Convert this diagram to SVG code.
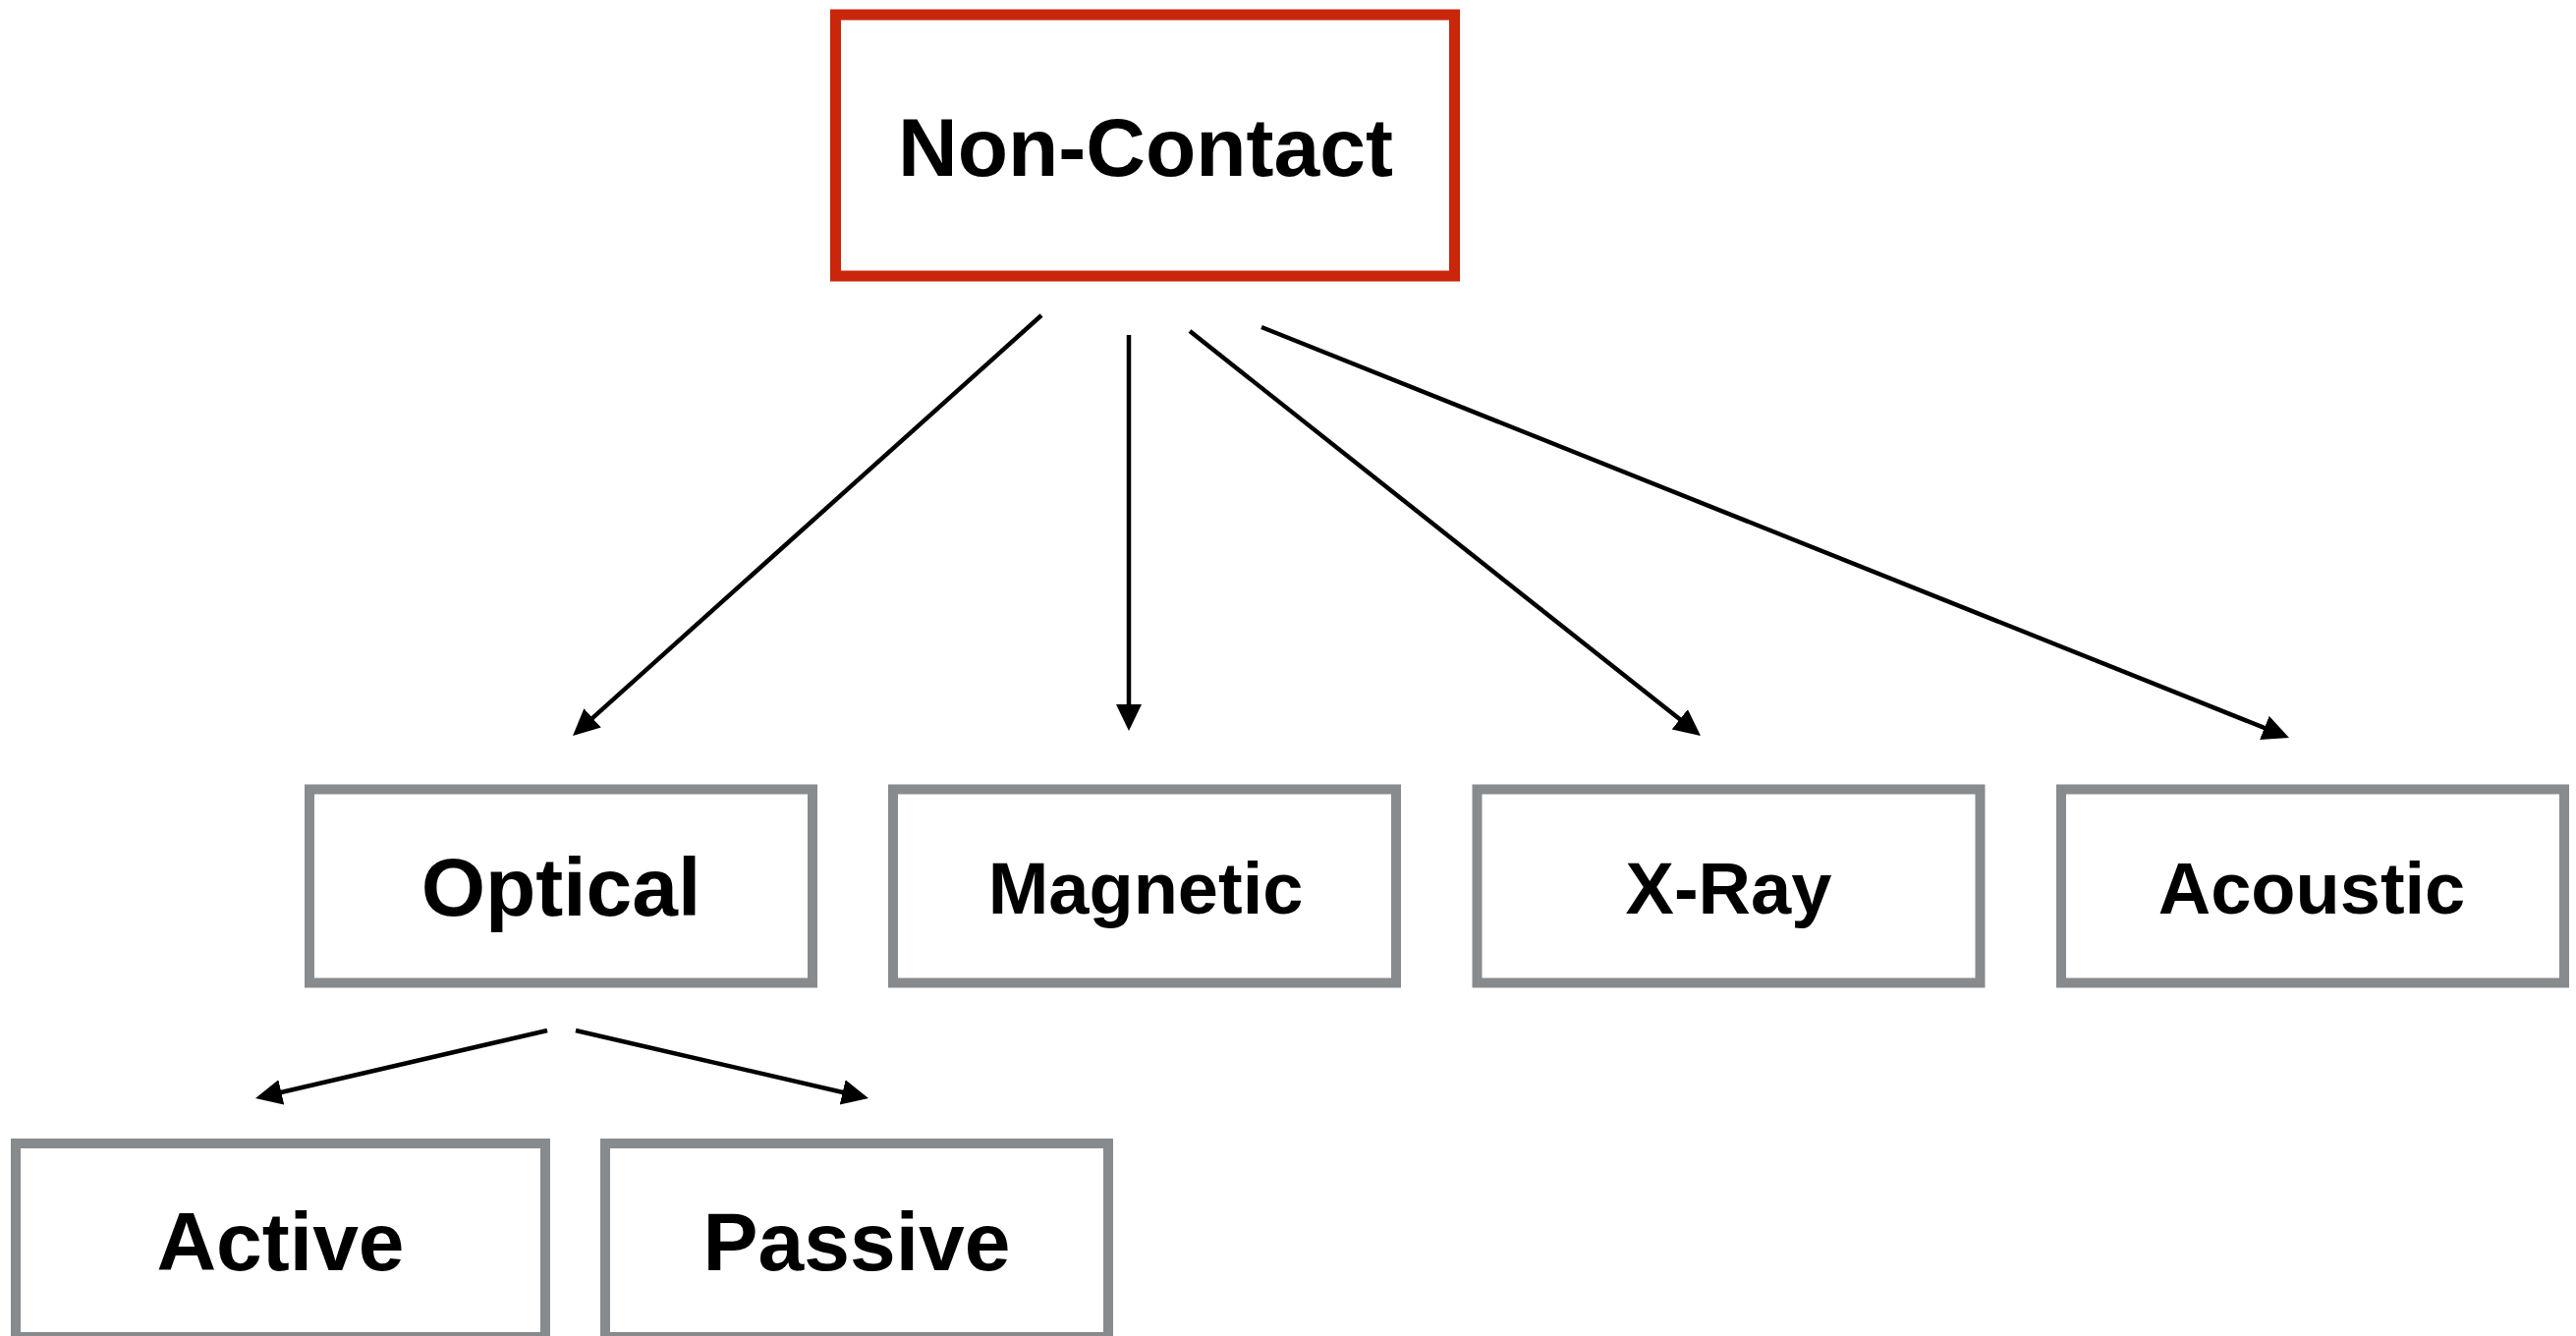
<svg xmlns="http://www.w3.org/2000/svg" width="2622" height="1360" viewBox="0 0 2622 1360">
<style>
.box{fill:#fff;stroke:#888B8E;stroke-width:10}
.root{fill:#fff;stroke:#C9260C;stroke-width:11}
.lbl{font-family:"Liberation Sans",Arial,Helvetica,sans-serif;font-weight:bold;fill:#000;text-anchor:middle}
.big{font-size:84px}
.mid{font-size:74px}
.edge{stroke:#000;stroke-width:4.5;fill:none;marker-end:url(#ah)}
</style>
<defs>
<marker id="ah" markerUnits="userSpaceOnUse" markerWidth="28" markerHeight="28" refX="7" refY="13" orient="auto">
<path d="M0,0 L27,13 L0,26 z" fill="#000"/>
</marker>
</defs>
<rect width="2622" height="1360" fill="#fff"/>
<g id="connectors">
<line class="edge" x1="1060" y1="321" x2="597.9" y2="735.6"/>
<line class="edge" x1="1149" y1="341" x2="1149" y2="724"/>
<line class="edge" x1="1211" y1="337" x2="1715.3" y2="736.6"/>
<line class="edge" x1="1284" y1="333" x2="2311.4" y2="743.6"/>
<line class="edge" x1="557" y1="1049" x2="279.5" y2="1113.5"/>
<line class="edge" x1="586" y1="1049" x2="864.5" y2="1113.5"/>
</g>
<g id="non-contact">
<rect class="root" x="850.5" y="15" width="630" height="266"/>
<text class="lbl big" x="1166" y="179">Non-Contact</text>
</g>
<g id="optical">
<rect class="box" x="315" y="803.5" width="512" height="197"/>
<text class="lbl big" x="571" y="932">Optical</text>
</g>
<g id="magnetic">
<rect class="box" x="909" y="803.5" width="512" height="197"/>
<text class="lbl mid" x="1166" y="930">Magnetic</text>
</g>
<g id="x-ray">
<rect class="box" x="1503.5" y="803.5" width="512" height="197"/>
<text class="lbl mid" x="1759.5" y="930">X-Ray</text>
</g>
<g id="acoustic">
<rect class="box" x="2098" y="803.5" width="512" height="197"/>
<text class="lbl mid" x="2353" y="930">Acoustic</text>
</g>
<g id="active">
<rect class="box" x="16" y="1164" width="539" height="197"/>
<text class="lbl big" x="285.5" y="1293">Active</text>
</g>
<g id="passive">
<rect class="box" x="616" y="1164" width="512" height="197"/>
<text class="lbl big" x="872" y="1293">Passive</text>
</g>
</svg>
